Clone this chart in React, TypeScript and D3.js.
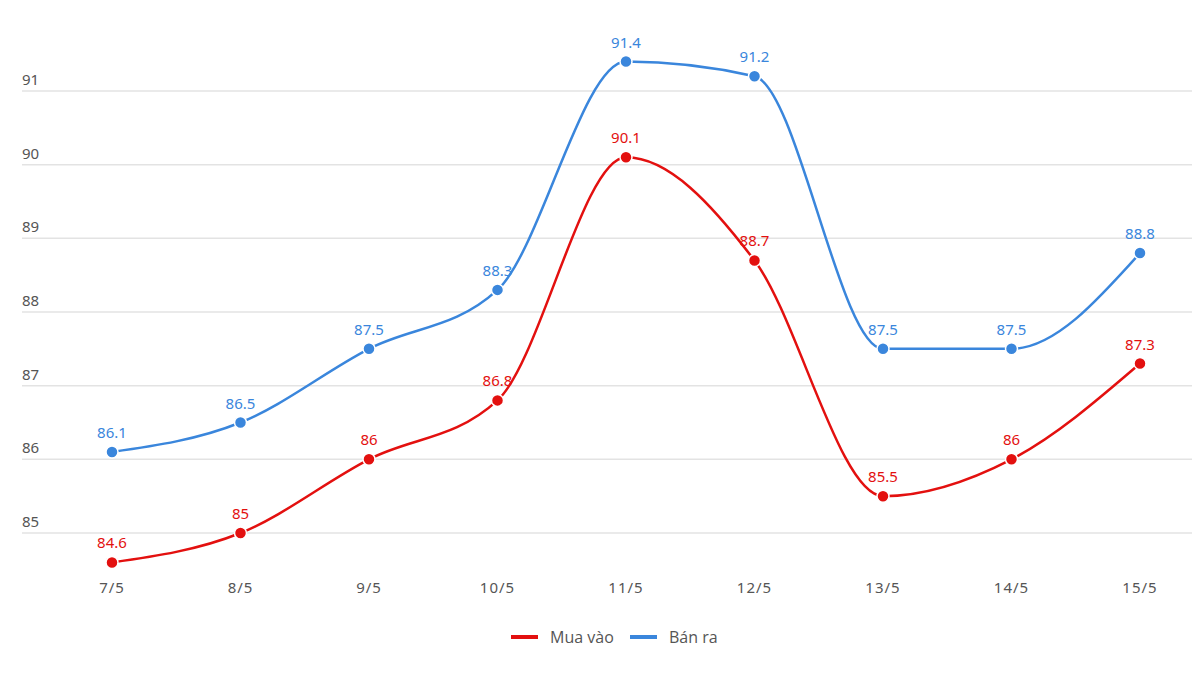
import React from "react";
import * as d3 from "d3";

const categories = ["7/5", "8/5", "9/5", "10/5", "11/5", "12/5", "13/5", "14/5", "15/5"];
const muaVao = [84.6, 85, 86, 86.8, 90.1, 88.7, 85.5, 86, 87.3];
const banRa = [86.1, 86.5, 87.5, 88.3, 91.4, 91.2, 87.5, 87.5, 88.8];
const yTicks = [85, 86, 87, 88, 89, 90, 91];
const seriesNames = ["Mua vào", "Bán ra"];
const colors = ["#e3100f", "#3a86dc"];

const W = 1192;
const H = 698;

export default function App() {
  const x = d3.scalePoint<string>().domain(categories).range([112, 1140]);
  const y = d3.scaleLinear().domain([85, 91]).range([533, 91]);
  const line = d3
    .line<number>()
    .x((_, i) => x(categories[i]) as number)
    .y((d) => y(d))
    .curve(d3.curveMonotoneX);
  const series = [muaVao, banRa];
  const font = "'Noto Sans', sans-serif";
  return (
    <svg
      width={W}
      height={H}
      style={{ position: "absolute", left: 0, top: 0, background: "#fff" }}
      fontFamily={font}
    >
      {yTicks.map((t) => (
        <g key={t}>
          <line x1={22} x2={W} y1={y(t)} y2={y(t)} stroke="#e3e3e3" strokeWidth={1.5} />
          <text x={22} y={y(t) - 6} fontSize={15} fill="#555">
            {t}
          </text>
        </g>
      ))}
      {categories.map((c) => (
        <text key={c} x={x(c)} y={593} fontSize={15} fill="#555" textAnchor="middle" letterSpacing={1}>
          {c}
        </text>
      ))}
      {series.map((s, si) => (
        <g key={si}>
          <path d={line(s) || ""} fill="none" stroke={colors[si]} strokeWidth={2.5} />
          {s.map((v, i) => (
            <g key={i}>
              <circle cx={x(categories[i])} cy={y(v)} r={6} fill={colors[si]} stroke="#fff" strokeWidth={1.5} />
              <text
                x={x(categories[i])}
                y={y(v) - 14}
                fontSize={15}
                fill={colors[si]}
                textAnchor="middle"
              >
                {v}
              </text>
            </g>
          ))}
        </g>
      ))}
      <g fontFamily="'Open Sans', sans-serif">
        <line x1={511} x2={538} y1={637} y2={637} stroke={colors[0]} strokeWidth={4} />
        <text x={550} y={643} fontSize={16} fill="#555">
          {seriesNames[0]}
        </text>
        <line x1={630} x2={657} y1={637} y2={637} stroke={colors[1]} strokeWidth={4} />
        <text x={669} y={643} fontSize={16} fill="#555">
          {seriesNames[1]}
        </text>
      </g>
    </svg>
  );
}
